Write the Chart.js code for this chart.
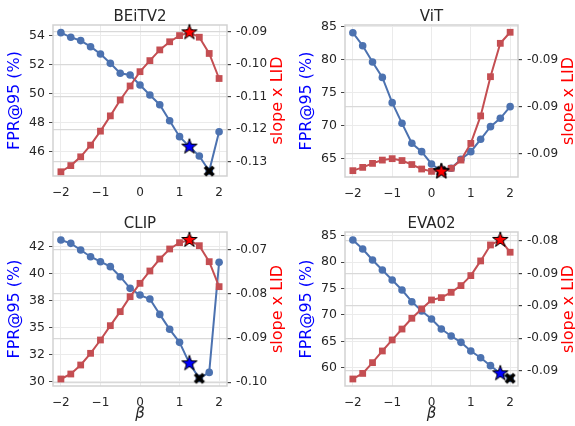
<!DOCTYPE html>
<html>
<head>
<meta charset="utf-8">
<script src="https://cdn.jsdelivr.net/npm/chart.js@4.4.0/dist/chart.umd.min.js"></script>
<style>
  html, body { margin: 0; padding: 0; background: #fff; }
  #fig { position: relative; width: 575px; height: 426px; overflow: hidden; }
  canvas { position: absolute; }
</style>
</head>
<body>
<div id="fig">
  <canvas id="beit" width="290" height="205" style="left:0px;top:0px"></canvas>
  <canvas id="vit" width="288" height="205" style="left:287px;top:0px"></canvas>
  <canvas id="clip" width="290" height="221" style="left:0px;top:205px"></canvas>
  <canvas id="eva" width="288" height="221" style="left:287px;top:205px"></canvas>
</div>
<script>
// beta sweep shared by all four models
const beta = [-2, -1.75, -1.5, -1.25, -1, -0.75, -0.5, -0.25, 0, 0.25, 0.5, 0.75, 1, 1.25, 1.5, 1.75, 2];
const xTicks = [-2, -1, 0, 1, 2];

const beitFpr = [54.23, 53.91, 53.68, 53.26, 52.76, 52.11, 51.42, 51.30, 50.61, 49.92, 49.25, 48.14, 47.04, 46.35, 45.70, 44.66, 47.38];
const beitSlope = [-0.1331, -0.1312, -0.1285, -0.1249, -0.1206, -0.1159, -0.1110, -0.1067, -0.1023, -0.0989, -0.0956, -0.0931, -0.0912, -0.0902, -0.0917, -0.0967, -0.1044];
const beitLeftTicks = [46, 48, 50, 52, 54];
const beitRightTicks = [-0.13, -0.12, -0.11, -0.10, -0.09];

const vitFpr = [84.09, 82.11, 79.63, 77.30, 73.46, 70.32, 67.28, 66.01, 64.14, 63.05, 63.48, 64.85, 66.01, 67.89, 69.81, 71.08, 72.85];
const vitSlope = [-0.09271, -0.09257, -0.09240, -0.09226, -0.09220, -0.09228, -0.09245, -0.09264, -0.09274, -0.09275, -0.09261, -0.09226, -0.09155, -0.09038, -0.08871, -0.08729, -0.08682];
const vitLeftTicks = [65, 70, 75, 80, 85];
const vitRightTicks = [-0.092, -0.090, -0.088];

const clipFpr = [43.12, 42.81, 42.19, 41.57, 41.11, 40.65, 39.72, 38.64, 38.02, 37.65, 36.23, 34.85, 33.64, 31.70, 30.31, 30.86, 41.05];
const clipSlope = [-0.09925, -0.09812, -0.09608, -0.09343, -0.09041, -0.08716, -0.08398, -0.08058, -0.07756, -0.07476, -0.07204, -0.06977, -0.06834, -0.06773, -0.06902, -0.07265, -0.07831];
const clipLeftTicks = [30, 32.5, 35, 37.5, 40, 42.5];
const clipRightTicks = [-0.10, -0.09, -0.08, -0.07];

const evaFpr = [84.18, 82.47, 80.39, 78.50, 76.60, 74.71, 72.50, 70.73, 69.22, 67.32, 66.00, 64.80, 63.16, 61.89, 60.38, 58.93, 57.98];
const evaSlope = [-0.09314, -0.09271, -0.09188, -0.09098, -0.09013, -0.08929, -0.08846, -0.08774, -0.08705, -0.08687, -0.08646, -0.08594, -0.08517, -0.08404, -0.08281, -0.08242, -0.08337];
const evaLeftTicks = [60, 65, 70, 75, 80, 85];
const evaRightTicks = [-0.0925, -0.09, -0.0875, -0.085, -0.0825];

const BLUE = '#4c72b0';
const RED = '#c44e52';
const INK = '#262626';
const FONT = "'DejaVu Sans', sans-serif";

function starMarker(fill) {
  const c = document.createElement('canvas');
  c.width = c.height = 20;
  const g = c.getContext('2d');
  g.beginPath();
  for (let k = 0; k < 10; k++) {
    const r = k % 2 ? 3.1 : 8.1;
    const a = -Math.PI / 2 + k * Math.PI / 5;
    g.lineTo(10 + r * Math.cos(a), 10 + r * Math.sin(a));
  }
  g.closePath();
  g.fillStyle = fill;
  g.fill();
  g.lineWidth = 1;
  g.strokeStyle = '#000';
  g.stroke();
  return c;
}

function crossMarker() {
  const c = document.createElement('canvas');
  c.width = c.height = 14;
  const g = c.getContext('2d');
  g.translate(7, 7);
  g.rotate(Math.PI / 4);
  g.fillStyle = '#000';
  g.fillRect(-6, -1.9, 12, 3.8);
  g.fillRect(-1.9, -6, 3.8, 12);
  return c;
}

const starRed = starMarker('#ff0000');
const starBlue = starMarker('#0000ff');
const crossBlack = crossMarker();

// matplotlib prints %.0f with round-half-even
function halfEven(v) {
  const r = Math.round(v);
  return (Math.abs(v % 1) === 0.5 && r % 2) ? String(r - 1) : String(r);
}

const panelText = {
  id: 'panelText',
  afterDraw(chart, args, o) {
    const { ctx, chartArea: a } = chart;
    const cy = (a.top + a.bottom) / 2;
    ctx.save();
    ctx.textAlign = 'center';
    ctx.fillStyle = INK;
    ctx.font = '15px ' + FONT;
    ctx.textBaseline = 'alphabetic';
    ctx.fillText(o.title, (a.left + a.right) / 2, a.top - 4.5);
    ctx.textBaseline = 'middle';
    ctx.font = '16px ' + FONT;
    ctx.save();
    ctx.translate(a.left - 38, cy);
    ctx.rotate(-Math.PI / 2);
    ctx.fillStyle = '#0000ff';
    ctx.fillText('FPR@95 (%)', 0, 0);
    ctx.restore();
    ctx.save();
    ctx.translate(a.right + 51, cy);
    ctx.rotate(-Math.PI / 2);
    ctx.fillStyle = '#ff0000';
    ctx.fillText('slope x LID', 0, 0);
    ctx.restore();
    if (o.xlabel) {
      ctx.font = 'italic 15px ' + FONT;
      ctx.fillStyle = INK;
      ctx.fillText('\u03b2', (a.left + a.right) / 2, a.bottom + 28);
    }
    ctx.restore();
  }
};

const frame = {
  id: 'frame',
  beforeDatasetsDraw(chart) {
    const { ctx, chartArea: a } = chart;
    ctx.save();
    ctx.strokeStyle = '#d2d2d2';
    ctx.lineWidth = 1.5;
    ctx.strokeRect(a.left, a.top, a.right - a.left, a.bottom - a.top);
    ctx.restore();
  }
};

function marker(values, idx, img, axis) {
  return {
    data: [{ x: beta[idx], y: values[idx] }],
    yAxisID: axis,
    showLine: false,
    pointStyle: img,
    pointRadius: 6,
    clip: false
  };
}

function panel(id, o) {
  const tickFont = { family: FONT, size: 12 };
  new Chart(document.getElementById(id), {
    type: 'line',
    data: {
      datasets: [
        marker(o.slope, o.pick, starRed, 'yR'),
        marker(o.fpr, o.pick, starBlue, 'yL'),
        marker(o.fpr, o.best, crossBlack, 'yL'),
        {
          data: beta.map((b, i) => ({ x: b, y: o.slope[i] })),
          yAxisID: 'yR',
          borderColor: RED,
          backgroundColor: RED,
          borderWidth: 2,
          pointStyle: 'rect',
          pointRadius: 4.8,
          pointBorderWidth: 0,
          clip: false
        },
        {
          data: beta.map((b, i) => ({ x: b, y: o.fpr[i] })),
          yAxisID: 'yL',
          borderColor: BLUE,
          backgroundColor: BLUE,
          borderWidth: 2,
          pointRadius: 3.8,
          pointBorderWidth: 0,
          clip: false
        }
      ]
    },
    options: {
      responsive: false,
      animation: false,
      events: [],
      layout: { padding: { top: o.top, left: 0, right: 0, bottom: 0 } },
      plugins: {
        legend: { display: false },
        title: { display: false },
        tooltip: { enabled: false },
        panelText: { title: o.title, xlabel: o.xlabel }
      },
      scales: {
        x: {
          type: 'linear', min: -2.2, max: 2.2,
          afterBuildTicks: s => { s.ticks = xTicks.map(v => ({ value: v })); },
          afterFit: s => { s.height = o.xh; },
          grid: { color: '#ebebeb', lineWidth: 1, drawTicks: false },
          border: { display: false },
          ticks: {
            padding: 10, color: INK, font: tickFont,
            callback: v => v < 0 ? '\u2212' + Math.abs(v) : String(v)
          }
        },
        yL: {
          position: 'left', min: o.yL[0], max: o.yL[1],
          afterBuildTicks: s => { s.ticks = o.lt.map(v => ({ value: v })); },
          afterFit: s => { s.width = o.lw; },
          grid: { color: '#ebebeb', lineWidth: 1, tickColor: '#444', tickLength: 4 },
          border: { display: false },
          ticks: { padding: 4, color: INK, font: { family: FONT, size: 12.5 }, callback: v => halfEven(v) }
        },
        yR: {
          position: 'right', min: o.yR[0], max: o.yR[1],
          afterBuildTicks: s => { s.ticks = o.rt.map(v => ({ value: v })); },
          afterFit: s => { s.width = o.rw; },
          grid: { color: '#d9d9d9', lineWidth: 1.2, tickColor: '#444', tickLength: 4 },
          border: { display: false },
          ticks: { padding: 5, color: INK, font: tickFont, callback: v => v.toFixed(2) }
        }
      }
    },
    plugins: [frame, panelText]
  });
}

panel('beit', {
  title: 'BEiTV2', fpr: beitFpr, slope: beitSlope, pick: 13, best: 15,
  lt: beitLeftTicks, rt: beitRightTicks,
  yL: [44.32, 54.76], yR: [-0.1344, -0.08794],
  top: 25, xh: 29, lw: 53, rw: 63, xlabel: false
});
panel('vit', {
  title: 'ViT', fpr: vitFpr, slope: vitSlope, pick: 9, best: 9,
  lt: vitLeftTicks, rt: vitRightTicks,
  yL: [62.16, 85.26], yR: [-0.09298, -0.08651],
  top: 25, xh: 28, lw: 58, rw: 57, xlabel: false
});
panel('clip', {
  title: 'CLIP', fpr: clipFpr, slope: clipSlope, pick: 13, best: 14,
  lt: clipLeftTicks, rt: clipRightTicks,
  yL: [29.60, 43.86], yR: [-0.10084, -0.06592],
  top: 27, xh: 40, lw: 53, rw: 63, xlabel: true
});
panel('eva', {
  title: 'EVA02', fpr: evaFpr, slope: evaSlope, pick: 15, best: 16,
  lt: evaLeftTicks, rt: evaRightTicks,
  yL: [56.53, 85.70], yR: [-0.09368, -0.08181],
  top: 27, xh: 40, lw: 58, rw: 57, xlabel: true
});
</script>
</body>
</html>
